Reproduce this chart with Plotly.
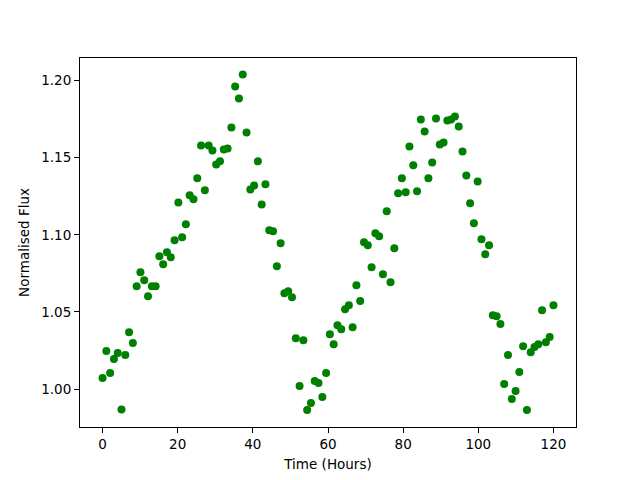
import plotly.graph_objects as go

time_hours = [
    0.00, 1.01, 2.02, 3.03, 4.03, 5.04, 6.05, 7.06, 8.07, 9.08,
    10.08, 11.09, 12.10, 13.11, 14.12, 15.13, 16.13, 17.14, 18.15, 19.16,
    20.17, 21.18, 22.18, 23.19, 24.20, 25.21, 26.22, 27.23, 28.24, 29.24,
    30.25, 31.26, 32.27, 33.28, 34.29, 35.29, 36.30, 37.31, 38.32, 39.33,
    40.34, 41.34, 42.35, 43.36, 44.37, 45.38, 46.39, 47.39, 48.40, 49.41,
    50.42, 51.43, 52.44, 53.45, 54.45, 55.46, 56.47, 57.48, 58.49, 59.50,
    60.50, 61.51, 62.52, 63.53, 64.54, 65.55, 66.55, 67.56, 68.57, 69.58,
    70.59, 71.60, 72.61, 73.61, 74.62, 75.63, 76.64, 77.65, 78.66, 79.66,
    80.67, 81.68, 82.69, 83.70, 84.71, 85.71, 86.72, 87.73, 88.74, 89.75,
    90.76, 91.76, 92.77, 93.78, 94.79, 95.80, 96.81, 97.82, 98.82, 99.83,
    100.84, 101.85, 102.86, 103.87, 104.87, 105.88, 106.89, 107.90, 108.91, 109.92,
    110.92, 111.93, 112.94, 113.95, 114.96, 115.97, 116.97, 117.98, 118.99, 120.00,
]

norm_flux = [
    1.0071, 1.0246, 1.0104, 1.0194, 1.0233, 0.9867, 1.0220, 1.0369, 1.0298, 1.0667,
    1.0757, 1.0706, 1.0602, 1.0667, 1.0667, 1.0861, 1.0809, 1.0887, 1.0854, 1.0964,
    1.1210, 1.0984, 1.1068, 1.1256, 1.1230, 1.1366, 1.1579, 1.1288, 1.1579, 1.1547,
    1.1456, 1.1476, 1.1553, 1.1560, 1.1696, 1.1961, 1.1883, 1.2039, 1.1663, 1.1294,
    1.1320, 1.1476, 1.1197, 1.1327, 1.1029, 1.1023, 1.0796, 1.0945, 1.0621, 1.0634,
    1.0595, 1.0330, 1.0019, 1.0317, 0.9864, 0.9909, 1.0052, 1.0039, 0.9948, 1.0104,
    1.0356, 1.0291, 1.0414, 1.0388, 1.0518, 1.0544, 1.0401, 1.0673, 1.0570, 1.0951,
    1.0932, 1.0790, 1.1010, 1.0990, 1.0744, 1.1152, 1.0693, 1.0913, 1.1269, 1.1366,
    1.1275, 1.1573, 1.1450, 1.1282, 1.1748, 1.1670, 1.1366, 1.1469, 1.1754, 1.1586,
    1.1599, 1.1741, 1.1748, 1.1767, 1.1702, 1.1540, 1.1385, 1.1204, 1.1074, 1.1346,
    1.0971, 1.0874, 1.0932, 1.0479, 1.0472, 1.0421, 1.0032, 1.0220, 0.9935, 0.9987,
    1.0110, 1.0278, 0.9864, 1.0239, 1.0272, 1.0291, 1.0511, 1.0304, 1.0337, 1.0544,
]

x_ticks = [0, 20, 40, 60, 80, 100, 120]
y_ticks = [1.00, 1.05, 1.10, 1.15, 1.20]

fig = go.Figure()
fig.add_trace(go.Scatter(
    x=time_hours, y=norm_flux, mode="markers",
    marker=dict(color="#008000", size=8, line=dict(width=0)),
    showlegend=False,
))

font = dict(family="DejaVu Sans", size=13.5, color="black")
axis_common = dict(
    showline=True, linecolor="black", linewidth=1, mirror=True,
    ticks="outside", ticklen=5, tickwidth=1, tickcolor="black",
    showgrid=False, zeroline=False, tickfont=font,
)

# the page body adds an 8px offset, so margins are shifted by 8px
fig.update_layout(
    width=640, height=480,
    margin=dict(l=72, r=72, t=50, b=61),
    paper_bgcolor="white", plot_bgcolor="white",
    font=font,
    xaxis=dict(range=[-6, 126], tickvals=x_ticks,
               ticktext=[str(v) for v in x_ticks],
               title=dict(text="Time (Hours)", font=font, standoff=8),
               **axis_common),
    yaxis=dict(range=[0.9754, 1.2146], tickvals=y_ticks,
               ticktext=[f"{v:.2f}" for v in y_ticks],
               title=dict(text="Normalised Flux", font=font, standoff=8),
               **axis_common),
)

fig.write_html("out.html")
